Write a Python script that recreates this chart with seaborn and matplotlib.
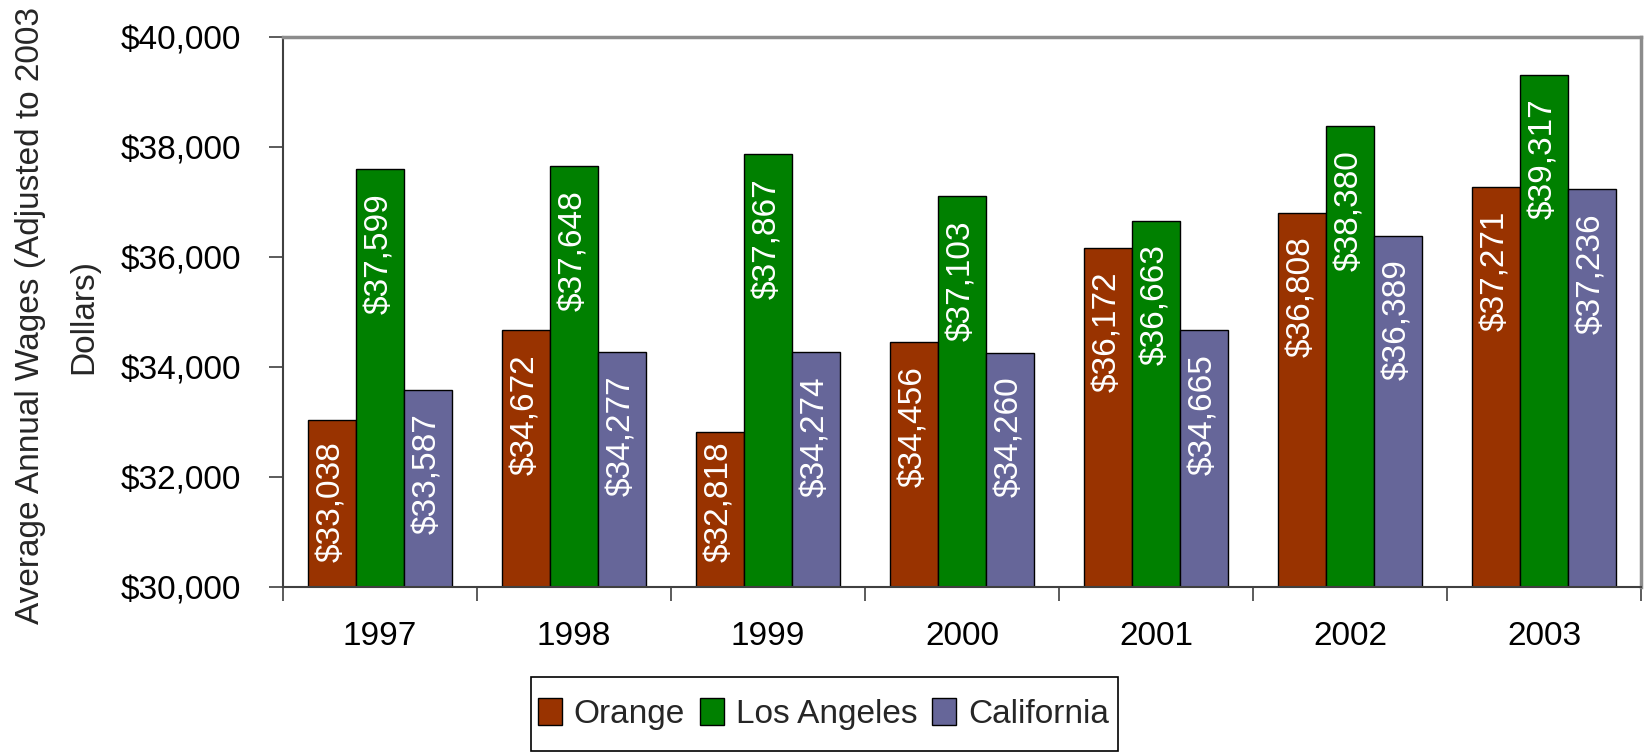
import numpy as np
import pandas as pd
import seaborn as sns
import matplotlib.pyplot as plt
from matplotlib.patches import Rectangle
from matplotlib.ticker import FuncFormatter, FixedLocator

# data
years = ["1997", "1998", "1999", "2000", "2001", "2002", "2003"]
regions = ["Orange", "Los Angeles", "California"]
orange = [33038, 34672, 32818, 34456, 36172, 36808, 37271]
los_angeles = [37599, 37648, 37867, 37103, 36663, 38380, 39317]
california = [33587, 34277, 34274, 34260, 34665, 36389, 37236]
colors = ["#993300", "#008000", "#666699"]

df = pd.DataFrame({
    "Year": years * 3,
    "Region": [r for r in regions for _ in years],
    "Wage": orange + los_angeles + california,
})

sns.set_theme(style="white")
plt.rcParams["font.family"] = ["Liberation Sans", "DejaVu Sans"]
FS = 24

fig = plt.figure(figsize=(16.47, 7.54), dpi=100)
ax = fig.add_axes([283 / 1647, 167 / 754, (1641 - 283) / 1647, (587 - 37) / 754])

sns.barplot(data=df, x="Year", y="Wage", hue="Region", palette=colors,
            saturation=1, width=0.742, gap=0, edgecolor="black", linewidth=1,
            ax=ax, legend=True)

ax.set_ylim(30000, 40000)
ax.set_xlim(-0.5, len(years) - 0.5)
ax.set_yticks(np.arange(30000, 40001, 2000))
ax.yaxis.set_major_formatter(FuncFormatter(lambda v, p: f"${v:,.0f}"))
ax.set_xlabel("")
ax.set_ylabel("")

# year labels at centres, tick marks at category boundaries
ax.tick_params(axis="x", which="major", length=0, pad=24.5, labelsize=FS, colors="black")
ax.xaxis.set_minor_locator(FixedLocator(np.arange(-0.5, len(years), 1.0)))
ax.tick_params(axis="x", which="minor", length=10, width=1.2, direction="out",
               color="#404040", bottom=True)
ax.tick_params(axis="y", length=10, width=1.2, direction="out", color="#404040",
               pad=20, labelsize=FS, left=True, labelcolor="black")

for side in ["top", "right"]:
    ax.spines[side].set_color("#8c8c8c")
    ax.spines[side].set_linewidth(2.5)
for side in ["left", "bottom"]:
    ax.spines[side].set_color("#404040")
    ax.spines[side].set_linewidth(1.5)

# value labels inside the bars (pushed up from the axis when the bar is short)
fig.canvas.draw()
renderer = fig.canvas.get_renderer()
ax_bottom_px = ax.transData.transform((0, 30000))[1]
for cont, vals in zip(ax.containers, [orange, los_angeles, california]):
    for bar, v in zip(cont, vals):
        xc = bar.get_x() + bar.get_width() / 2
        t = ax.annotate(f"${v:,}", (xc, v), xytext=(0, -24), textcoords="offset pixels",
                        rotation=90, ha="center", va="top", color="white", fontsize=FS)
        bb = t.get_window_extent(renderer)
        if bb.y0 < ax_bottom_px + 25:
            t.remove()
            ax.annotate(f"${v:,}", (xc, 30000), xytext=(0, 25), textcoords="offset pixels",
                        rotation=90, ha="center", va="bottom", color="white", fontsize=FS)

fig.text(57 / 1647, 1 - 316 / 754, "Average Annual Wages (Adjusted to 2003\nDollars)",
         rotation=90, ha="center", va="center", multialignment="center",
         fontsize=FS, linespacing=1.9)

handles, labels = ax.get_legend_handles_labels()
ax.get_legend().remove()
leg = fig.legend(handles, labels, loc="center", bbox_to_anchor=(0.5, 1 - 714 / 754),
                 ncol=3, fontsize=FS, frameon=False,
                 handlelength=0.72, handleheight=0.85, handletextpad=0.35,
                 columnspacing=0.45, borderaxespad=0)
fig.add_artist(Rectangle((531 / 1647, 3 / 754), 587 / 1647, 74 / 754,
                         transform=fig.transFigure, fill=False,
                         edgecolor="black", linewidth=1.2))

fig.savefig("out.png", dpi=100)
